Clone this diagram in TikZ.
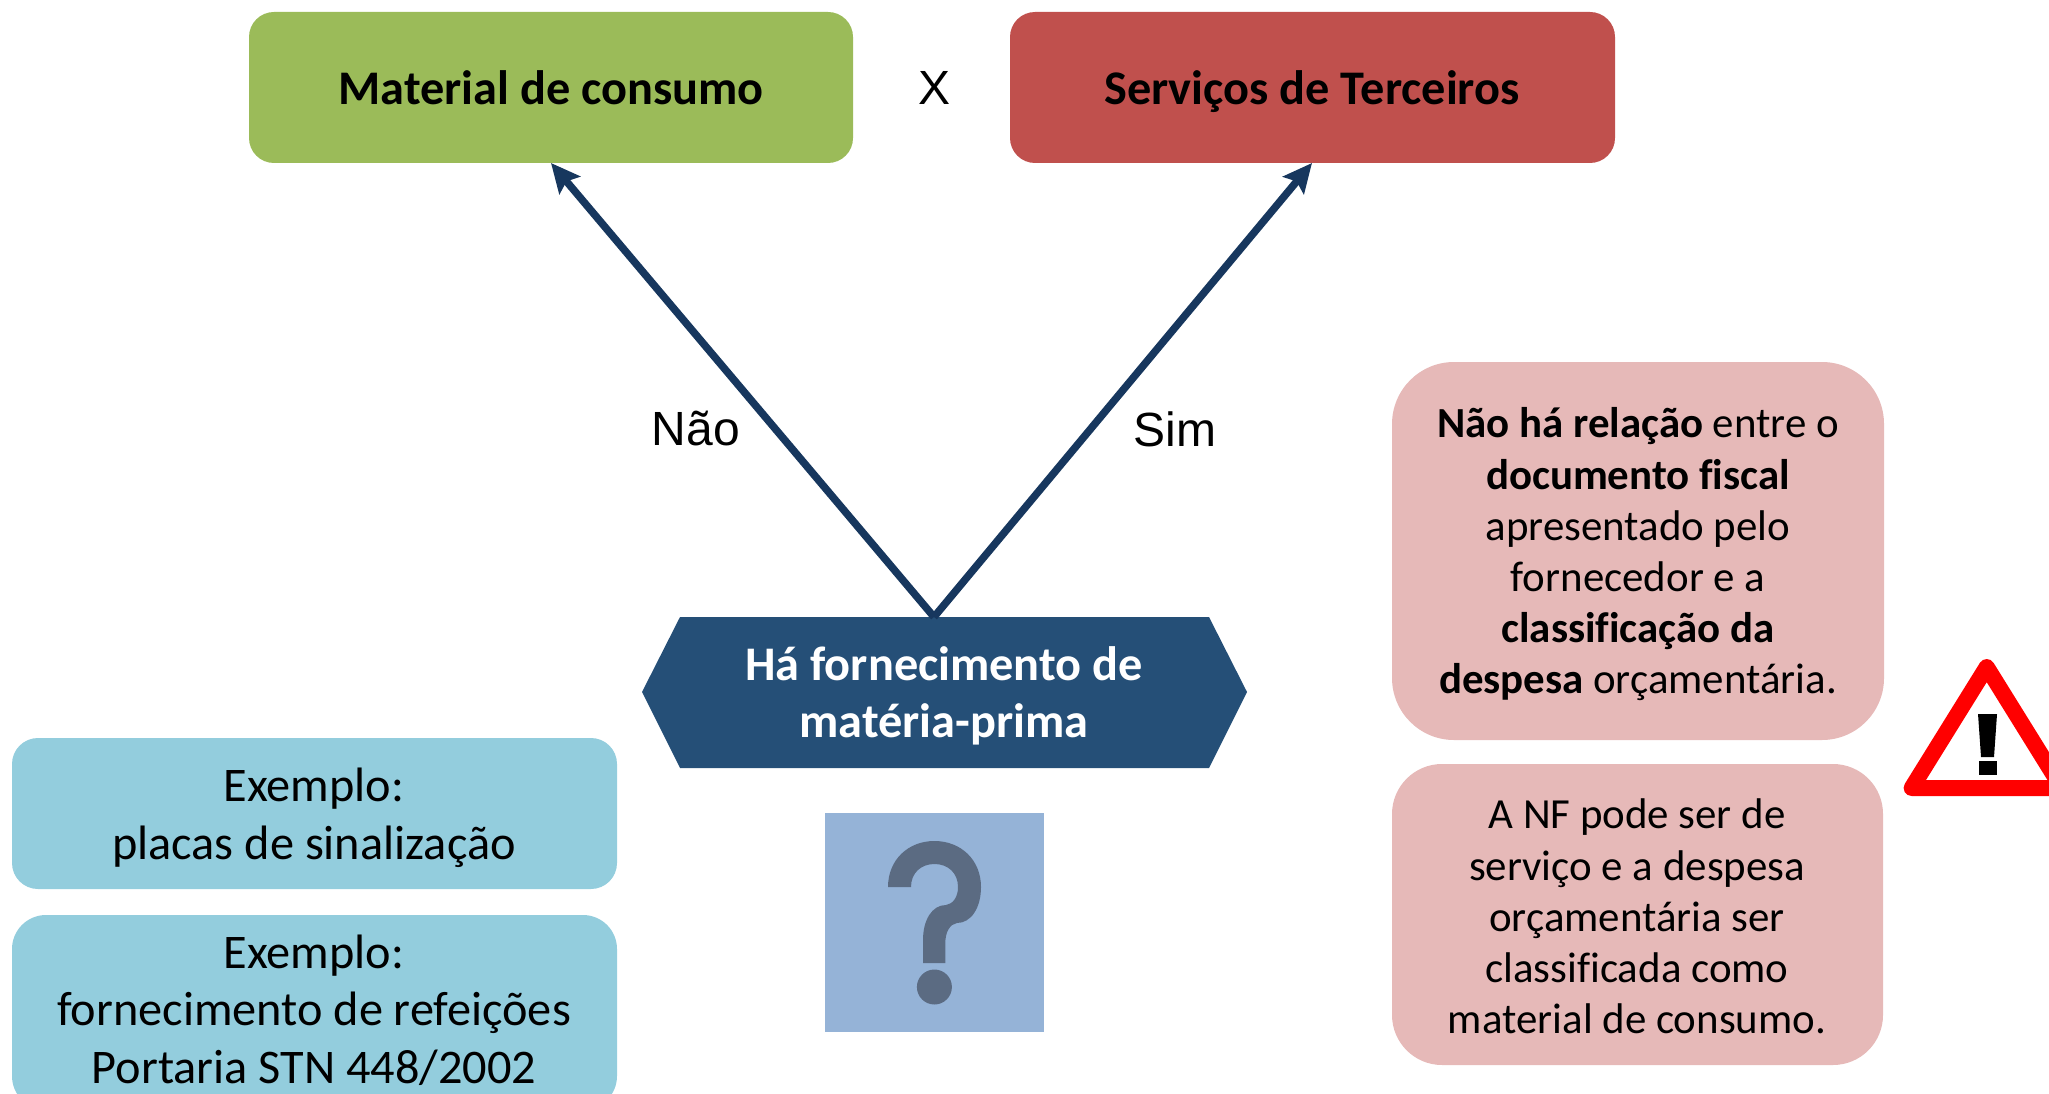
\documentclass[tikz,border=0pt]{standalone}
\usepackage{fontspec}
\setmainfont{Carlito}[Ligatures=NoCommon]
\newfontfamily\arialf{Liberation Sans}
\definecolor{cgreen}{HTML}{9BBB59}
\definecolor{cred}{HTML}{C0504D}
\definecolor{chex}{HTML}{254F77}
\definecolor{cblue}{HTML}{93CDDD}
\definecolor{cpink}{HTML}{E6B9B8}
\definecolor{csq}{HTML}{95B3D7}
\definecolor{cq}{HTML}{5B6B82}
\definecolor{carrow}{HTML}{17375E}
\usetikzlibrary{arrows.meta}
\tikzset{
  x=1pt,y=-1pt,
  boxtext/.style={align=center,inner sep=0pt,font=\fontsize{48.3}{57.5}\selectfont},
  pinktext/.style={align=center,inner sep=0pt,font=\fontsize{42.9}{51.2}\selectfont},
  head/.style={align=center,inner sep=0pt,font=\fontsize{48.3}{57.5}\selectfont\bfseries},
  plain/.style={inner sep=0pt,font=\fontsize{48}{48}\arialf},
  arrowline/.style={draw=carrow,line width=7.5pt,-{Stealth[length=29pt,width=27pt,inset=5pt]}}
}
\begin{document}
\begin{tikzpicture}
\useasboundingbox (0,0) rectangle (2049,1094);
\clip (0,0) rectangle (2049,1094);
% top boxes
\fill[cgreen,rounded corners=25pt] (249,12) rectangle (853,163);
\node[head,anchor=base] (mat) at (551,105) {Material de consumo};
\fill[cred,rounded corners=25pt] (1010,12) rectangle (1615,163);
\node[head,anchor=base] (serv) at (1312,105) {Serviços de Terceiros};
\node[plain] (x) at (934,88) {X};
\coordinate (mattip) at (551,163);
\coordinate (servtip) at (1312,163);
% hexagon
\fill[chex] (642,692) -- (680,617) -- (1209,617) -- (1247,692) -- (1209,768) -- (680,768) -- cycle;
\coordinate (apex) at (934,617);
\node[head,text=white] (hex) at (944,696) {Há fornecimento de\\matéria-prima};
\draw[arrowline] (apex) -- (mattip);
\draw[arrowline] (apex) -- (servtip);
\node[plain] (nao) at (696,429) {Não};
\node[plain] (sim) at (1175,429) {Sim};
% question square
\fill[csq] (825,813) rectangle (1044,1032);
\fill[cq] (888,887) .. controls (888,860) and (908,841) .. (934.4,841)
  .. controls (961,841) and (981,860) .. (981,887)
  .. controls (981,908) and (971,923) .. (957,923)
  .. controls (950,924) and (945.3,932) .. (945.3,943)
  -- (945.3,963) -- (923,963) -- (923,940)
  .. controls (923,920) and (932,905) .. (946,905)
  .. controls (953,904) and (958,897) .. (958,887)
  .. controls (958,873) and (948,864) .. (934.4,864)
  .. controls (921,864) and (911,873) .. (911,887) -- cycle;
\fill[cq] (934.4,987) circle (17.5);
% blue boxes
\fill[cblue,rounded corners=26pt] (12,738) rectangle (617,889);
\node[boxtext] (ex1) at (314,818) {Exemplo:\\placas de sinalização};
\fill[cblue,rounded corners=34pt] (12,915) rectangle (617,1110);
\node[boxtext] (ex2) at (314,1010) {Exemplo:\\fornecimento de refeições\\Portaria STN 448/2002};
% pink boxes
\fill[cpink,rounded corners=62pt] (1392,362) rectangle (1884,740);
\node[pinktext] (p1) at (1638,554.5) {\textbf{Não há relação} entre o\\\textbf{documento fiscal}\\apresentado pelo\\fornecedor e a\\\textbf{classificação da}\\\textbf{despesa} orçamentária.};
\fill[cpink,rounded corners=50pt] (1392,764) rectangle (1883,1065);
\node[pinktext] (p2) at (1637,916.5) {A NF pode ser de\\serviço e a despesa\\orçamentária ser\\classificada como\\material de consumo.};
% warning sign
\draw[red,fill=white,line width=16pt,line join=round] (1986.7,667) -- (1911.6,788) -- (2061.8,788) -- cycle;
\fill[black] (1978,714) -- (1997,714) -- (1994,757) -- (1981,757) -- cycle;
\fill[black] (1979,761) rectangle (1997,775);
\end{tikzpicture}
\end{document}
